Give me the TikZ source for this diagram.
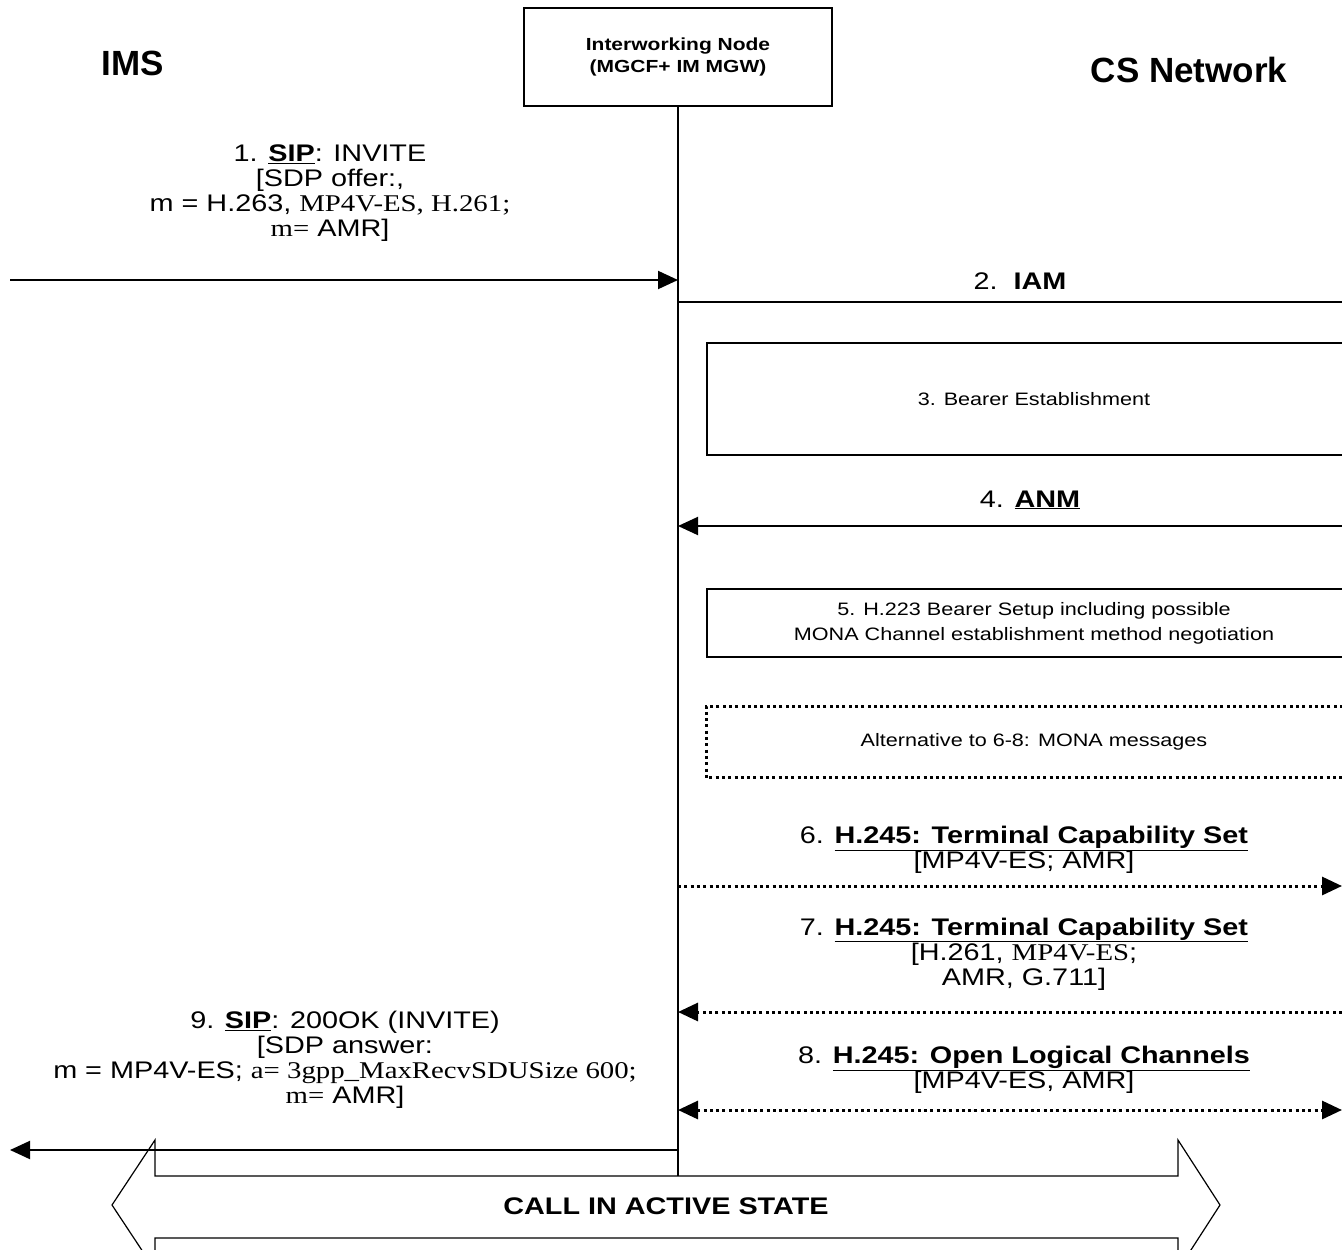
\documentclass[tikz,border=0pt]{standalone}
\usepackage{fontspec}
\setmainfont{Liberation Sans}[FakeStretch=1.2]
\newfontfamily\tnr{Liberation Serif}[FakeStretch=1.2]
\newfontfamily\hdfont{Liberation Sans}
\usepackage{xcolor}
\usepackage{tikz}
\usetikzlibrary{shapes,arrows.meta,positioning,calc}

\begin{document}
\begin{tikzpicture}[
            x=1pt, y=-1pt,
            every node/.style={font=\fontsize{24}{25}\selectfont, align=center, inner sep=0pt},
            hd/.style={font=\hdfont\bfseries\fontsize{35}{40}\selectfont},
            bx/.style={draw, line width=1.8pt, font=\fontsize{18}{25}\selectfont},
            msg/.style={line width=2pt, -{Triangle[length=20pt,width=18pt]}},
            dot/.style={line width=3pt, dash pattern=on 3pt off 3.3pt},
        ]
            \useasboundingbox (0,0) rectangle (1342,1250);
            % parties
            \node[hd] (ims) at (133,63) {IMS};
            \node[hd] (cs) at (1189,70) {CS Network};
            \node[bx, minimum width=308pt, minimum height=98pt, font=\bfseries\fontsize{17.5}{22}\selectfont] (iw) at (678,57) {Interworking Node\\ (MGCF+ IM MGW)};
            \coordinate (iwEnd) at (678,1176);
            \draw[line width=2pt] (iw.south) -- (iwEnd);

            % end points
            \coordinate (l1) at (10,280);    \coordinate (r1) at (678,280);
            \coordinate (l2) at (678,302);   \coordinate (r2) at (1345,302);
            \coordinate (l4) at (678,526);   \coordinate (r4) at (1345,526);
            \coordinate (l6) at (678,886);   \coordinate (r6) at (1342,886);
            \coordinate (l7) at (678,1012);  \coordinate (r7) at (1342,1012);
            \coordinate (l8) at (678,1110);  \coordinate (r8) at (1342,1110);
            \coordinate (l9) at (10,1150);   \coordinate (r9) at (678,1150);

            % 1
            \node (t1) at (330,193) {1. \underline{\textbf{SIP}}: INVITE\\ {[}SDP offer:,\\ m = H.263, {\tnr MP4V-ES, H.261;}\\ {\tnr m=} AMR]};
            \draw[msg] (l1) -- (r1);
            % 2
            \node (t2) at (1020,281) {2.\ \ \textbf{IAM}};
            \draw[line width=2pt] (l2) -- (r2);
            % 3
            \node[bx, minimum width=654pt, minimum height=112pt] (b3) at (1034,399) {3. Bearer Establishment};
            % 4
            \node (t4) at (1030,500) {4. \underline{\textbf{ANM}}};
            \draw[msg] (r4) -- (l4);
            % 5
            \node[bx, minimum width=654pt, minimum height=68pt] (b5) at (1034,623) {5. H.223 Bearer Setup including possible\\ MONA Channel establishment method negotiation};
            \node[bx, draw=none, minimum width=654pt, minimum height=70pt] (b6) at (1034,742) {Alternative to 6-8: MONA messages};
            \draw[dot] (b6.north east) -- (b6.north west) -- (b6.south west) -- (b6.south east);
            % 6
            \node (t6) at (1024,850) {6. \underline{\textbf{H.245: Terminal Capability Set}}\\ {[}MP4V-ES; AMR]};
            \draw[dot, -{Triangle[length=20pt,width=18pt]}] (l6) -- (r6);
            % 7
            \node (t7) at (1024,954) {7. \underline{\textbf{H.245: Terminal Capability Set}}\\ {[}H.261, {\tnr MP4V-ES};\\ AMR, G.711]};
            \draw[dot, -{Triangle[length=20pt,width=18pt]}] (r7) -- (l7);
            % 8
            \node (t8) at (1024,1070) {8. \underline{\textbf{H.245: Open Logical Channels}}\\ {[}MP4V-ES, AMR]};
            \draw[dot, {Triangle[length=20pt,width=18pt]}-{Triangle[length=20pt,width=18pt]}] (l8) -- (r8);
            % 9
            \node (t9) at (345,1060) {9. \underline{\textbf{SIP}}: 200OK (INVITE)\\ {[}SDP answer:\\ m = MP4V-ES; {\tnr a= 3gpp\_MaxRecvSDUSize 600;}\\ {\tnr m=} AMR]};
            \draw[msg] (r9) -- (l9);

            % active state
            \draw[line width=1.2pt] (155,1176) -- (155,1140) -- (112,1205) -- (155,1270) -- (155,1238) -- (1178,1238) -- (1178,1270) -- (1220,1205) -- (1178,1140) -- (1178,1176) -- cycle;
            \node[font=\bfseries\fontsize{24}{25}\selectfont] (act) at (666,1206) {CALL IN ACTIVE STATE};
        \end{tikzpicture}
\end{document}
